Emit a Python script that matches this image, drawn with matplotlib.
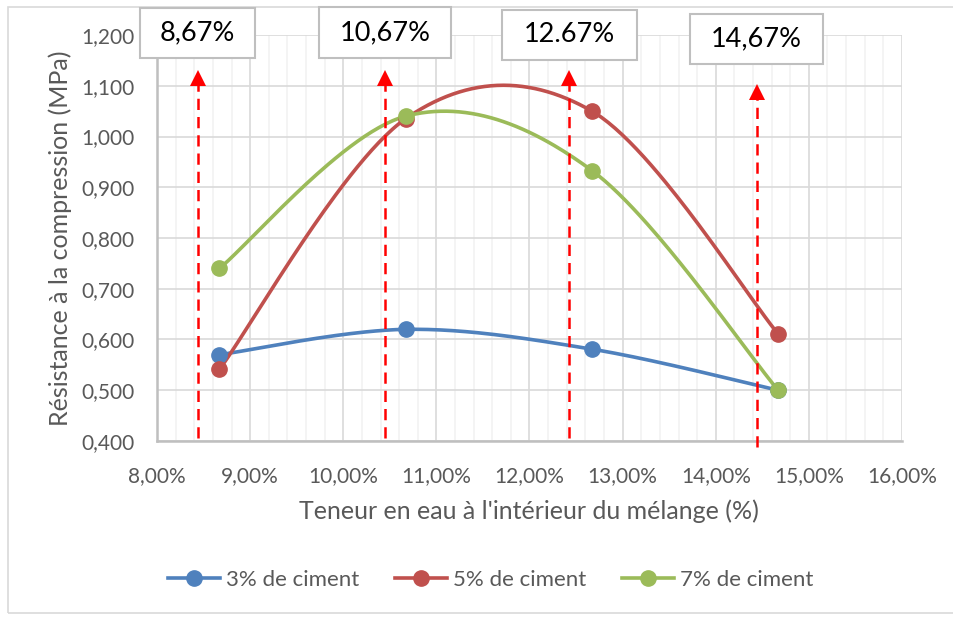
import numpy as np
import matplotlib
matplotlib.use("Agg")
import matplotlib.pyplot as plt
from matplotlib.patches import Rectangle
from matplotlib.ticker import FuncFormatter, MultipleLocator

# water content (%) and compressive strength (MPa) per cement dosage
teneur = [8.67, 10.67, 12.67, 14.67]
ciment_3 = [0.570, 0.620, 0.581, 0.500]
ciment_5 = [0.541, 1.035, 1.050, 0.611]
ciment_7 = [0.740, 1.040, 0.933, 0.500]

series = ["3% de ciment", "5% de ciment", "7% de ciment"]
colors = ["#4f81bd", "#c0504d", "#9bbb59"]

# red dashed markers with their boxed labels
repere_x = [8.44, 10.445, 12.42, 14.44]
repere_bas = [0.405, 0.405, 0.405, 0.388]
repere_haut = [1.103, 1.103, 1.103, 1.075]
repere_txt = ["8,67%", "10,67%", "12.67%", "14,67%"]

GREY = "#595959"
W, H = 954, 618


def smooth(x, y, n=60):
    """Excel-like smoothed line: cubic Bezier through the points."""
    p = np.column_stack([x, y]).astype(float)
    ext = np.vstack([p[0], p, p[-1]])
    t = np.linspace(0, 1, n)[:, None]
    out = []
    for i in range(len(p) - 1):
        p0, p1 = p[i], p[i + 1]
        b1 = p0 + (ext[i + 2] - ext[i]) / 6
        b2 = p1 - (ext[i + 3] - ext[i + 1]) / 6
        seg = ((1 - t) ** 3) * p0 + 3 * ((1 - t) ** 2) * t * b1 \
            + 3 * (1 - t) * t ** 2 * b2 + t ** 3 * p1
        out.append(seg)
    c = np.vstack(out)
    return c[:, 0], c[:, 1]


def fx(px):
    return px / W


def fy(py):
    return 1 - py / H


plt.rcParams["font.family"] = ["Lato", "DejaVu Sans"]
fig = plt.figure(figsize=(W / 100, H / 100), dpi=100, facecolor="white")
ax = fig.add_axes([fx(157), fy(441), fx(902) - fx(157), fy(35) - fy(441)])

ax.set_xlim(8, 16)
ax.set_ylim(0.4, 1.2)
ax.xaxis.set_major_locator(MultipleLocator(1))
ax.xaxis.set_minor_locator(MultipleLocator(0.2))
ax.yaxis.set_major_locator(MultipleLocator(0.1))
ax.grid(which="minor", axis="x", color="#f2f2f2", lw=1.2, zorder=0)
ax.grid(which="major", axis="both", color="#d9d9d9", lw=1.2, zorder=0)
ax.set_axisbelow(True)

ax.xaxis.set_major_formatter(FuncFormatter(lambda v, _: f"{v:.2f}%".replace(".", ",")))
ax.yaxis.set_major_formatter(FuncFormatter(lambda v, _: f"{v:.3f}".replace(".", ",")))
ax.tick_params(which="both", length=0, colors=GREY, labelsize=15)
ax.tick_params(axis="x", pad=18)
ax.tick_params(axis="y", pad=16)
for s in ["top", "right"]:
    ax.spines[s].set_visible(False)
for s in ["bottom", "left"]:
    ax.spines[s].set_color("#bfbfbf")
    ax.spines[s].set_linewidth(1.8)

for vals, lab, col in zip([ciment_3, ciment_5, ciment_7], series, colors):
    sx, sy = smooth(teneur, vals)
    ax.plot(sx, sy, color=col, lw=2.6, zorder=3, solid_capstyle="round")
    ax.plot(teneur, vals, "o", color=col, ms=11, zorder=4)
    ax.plot([], [], "-o", color=col, lw=2.6, ms=11, label=lab)

for x, y0, y1 in zip(repere_x, repere_bas, repere_haut):
    ax.plot([x, x], [y0, y1], color="red", lw=1.8, ls=(0, (4.5, 2.8)),
            zorder=5, clip_on=False)
    ax.plot(x, y1 + 0.012, marker="^", color="red", ms=11, mew=0,
            zorder=5, clip_on=False)

# boxed labels above the plot area (pixel boxes: left, top, right, bottom)
boxes = [(140, 8, 255, 58), (319, 7, 451, 58), (502, 10, 637, 60), (690, 14, 823, 64)]
for (l, t, r, b), txt in zip(boxes, repere_txt):
    fig.patches.append(Rectangle((fx(l), fy(b)), fx(r) - fx(l), fy(t) - fy(b),
                                 transform=fig.transFigure, facecolor="white",
                                 edgecolor="#bfbfbf", lw=1.5, zorder=10))
    fig.text(fx((l + r) / 2), fy((t + b) / 2), txt, ha="center", va="center",
             fontsize=19.5, color="black", zorder=11)

fig.text(fx(529), fy(511), "Teneur en eau à l'intérieur du mélange (%)",
         ha="center", va="center", fontsize=18, color=GREY)
fig.text(fx(60), fy(238), "Résistance à la compression (MPa)", rotation=90,
         ha="center", va="center", fontsize=18, color=GREY)

fig.legend(loc="center", bbox_to_anchor=(fx(491), fy(580)), ncol=3,
           frameon=False, fontsize=16, handlelength=2.35, columnspacing=1.6,
           handletextpad=0.27, labelcolor=GREY)

# light outline around the chart area
fig.patches.append(Rectangle((fx(8), fy(613)), fx(960) - fx(8), fy(7) - fy(613),
                             transform=fig.transFigure, facecolor="none",
                             edgecolor="#d9d9d9", lw=1.2, zorder=0))

fig.savefig("out.png", dpi=100, facecolor="white")
